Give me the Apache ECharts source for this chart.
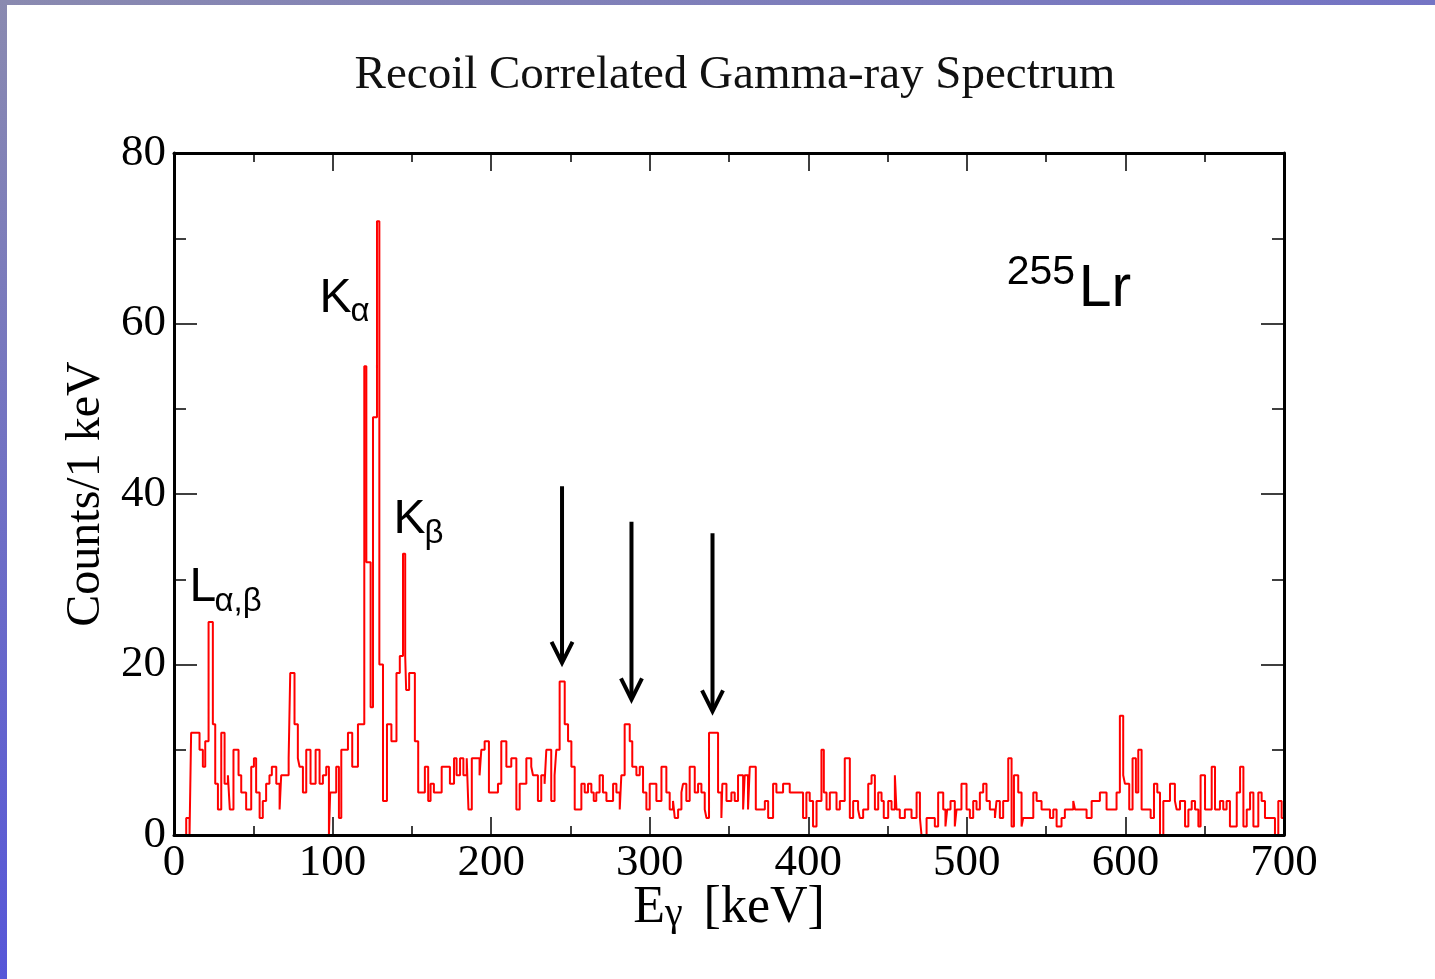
<!DOCTYPE html>
<html><head><meta charset="utf-8">
<script src="https://cdn.jsdelivr.net/npm/echarts@6/dist/echarts.min.js"></script>
<style>
html,body{margin:0;padding:0;width:1435px;height:979px;overflow:hidden;background:#fff;}
#topbar{position:absolute;left:0;top:0;width:1435px;height:5px;background:linear-gradient(to right,#8a8ab0,#7474c4);}
#leftbar{position:absolute;left:0;top:0;width:7px;height:979px;background:linear-gradient(to bottom,#8a8ab0,#5656d8);}
#chart{position:absolute;left:0;top:0;width:1435px;height:979px;}
</style></head><body>
<div id="topbar"></div><div id="leftbar"></div><div id="chart"></div>
<script>
// ---- data ----
const titleText = 'Recoil Correlated Gamma-ray Spectrum';
const xTickValues = [0, 100, 200, 300, 400, 500, 600, 700];
const yTickValues = [0, 20, 40, 60, 80];
// start energy (keV) of each histogram step, and the counts of that step
const binStartKeV = [0,7.7,9.8,10.8,16.1,18.2,19.7,21.8,24.5,26,27.7,29.8,31.9,34,35.2,37.5,40.7,42.4,45.5,48.7,50.4,51.8,54,56,58.1,60.2,61.7,64.5,66.6,67.6,72.3,73.3,76,78.1,79.2,81.3,83.4,86.1,89.3,91.8,93.9,96,97.7,98.5,102.3,104,105.5,109.7,112.4,116,120,121.3,124,125.5,128,129.5,131.8,134.3,137.1,140.3,142.4,144.4,145.8,146.4,148.3,151.9,154,158.2,160.3,161.8,163.9,168.8,174,176.6,178.2,180.4,182.5,184.6,185.7,187.8,192.7,193.8,195.9,198.6,204.3,206.4,209.6,212.7,215.9,218,222.2,225.3,226.4,229.5,231.6,233.7,234.8,237.9,240,241.1,243.2,246.4,248.5,250.6,252.7,256.9,259,261.1,263.2,264.7,266.3,268.4,270.5,272.7,276.9,279,281.1,282.1,284.2,287.4,289,291.6,293.7,295.8,297.9,300,304.2,307.4,310.5,312.6,314.7,315.8,317.9,320,321,323.1,325.2,328.4,330.5,332.6,334.7,335.8,337.4,343.1,345.2,345.8,348.4,351.5,353.6,355.7,358.9,359.9,362,363.1,366.9,372.6,374.7,377.8,379.9,384.1,388.3,396.7,398.8,400.9,403,405.2,408.3,409.8,411.5,413.6,417.8,419.9,423,426.2,428.3,431.4,432.5,434.6,437.8,439.9,442,444.1,446.2,447.6,450.4,452.5,454.6,455.6,457.7,460.9,465.1,468.3,470.4,471.4,474.6,479.8,481.9,485.1,486.5,487.6,489.7,492.4,493.5,496.6,499.8,501.9,504,506.1,508.2,510.3,512.4,514.5,517.7,518.7,520.8,522.9,526.1,528.2,529.7,532.4,534.5,535.5,541.9,544,547.1,552.4,554.5,556.6,559.7,561.8,565,567.1,568.2,575.5,578.7,583.9,588.1,594.4,596.5,598.6,599.7,602.4,604.5,606.6,608.1,610.2,615.9,618,620.1,621.8,623.9,628.1,631.2,632.3,634.4,637.6,639.7,641.8,643.9,646,647.4,650.2,654.4,656.5,659.6,661.7,663.8,665.9,670.2,672.3,674.4,676.5,678.6,680.7,683.8,685.9,688,694.3,696.4,698.5,700];
const counts = [0,2,0,12,10,8,11,25,13,6,3,12,6,7,3,10,7,5,3,8,9,5,2,4,6,7,8,6,3,7,9,19,13,9,8,5,10,6,10,6,7,8,0,5,8,2,10,12,8,13,55,32,15,49,72,20,4,13,11,19,21,33,21,17,19,11,5,8,4,6,5,8,6,9,7,9,7,9,3,9,7,10,11,5,6,11,8,9,3,6,9,8,7,4,7,6,10,4,7,10,18,13,11,8,3,6,5,6,5,4,5,7,5,4,6,5,3,7,13,11,8,7,8,5,3,6,4,8,5,3,4,2,3,5,6,4,8,5,6,5,3,2,12,5,2,6,4,5,4,7,3,7,3,8,3,4,2,6,5,6,5,2,5,4,1,4,10,5,3,5,3,4,9,2,4,3,2,3,6,7,3,5,4,2,4,3,7,3,2,3,2,5,2,0,2,1,5,3,1,3,4,1,3,6,3,2,4,3,5,6,4,3,2,4,2,4,9,1,7,5,1,2,5,4,3,2,3,1,2,3,3,4,3,2,4,5,3,5,14,7,6,3,9,5,10,3,2,6,5,0,4,6,4,3,4,1,3,4,3,1,7,3,8,3,4,3,4,1,5,8,1,3,5,1,5,4,2,0,4,2,2];
// annotation arrows (keV, counts)
const arrowKeV = [244.7, 288.5, 339.6];
const arrowTop = [40.9, 36.75, 35.4];
const arrowTip = [20.2, 15.9, 14.5];
// annotation labels: main letter, subscript, anchor (keV, counts) at main-letter baseline
const labelMain = ['L', 'K', 'K'];
const labelSub = ['α,β', 'α', 'β'];
const labelKeV = [9.8, 91.8, 138.5];
const labelCounts = [27.3, 61.2, 35.2];
const isotopeMass = '255';
const isotopeSymbol = 'Lr';
const isotopeKeV = 570.5, isotopeCounts = 61.8;

const serif = '"Liberation Serif", "Times New Roman", serif';
const sans = '"Liberation Sans", Arial, sans-serif';

const pts = binStartKeV.map((x, i) => [x, counts[i]]);

const chart = echarts.init(document.getElementById('chart'));
const axisLineStyle = {color: '#000', width: 3};
const tickStyle = {color: '#000', width: 1.5};
const option = {
  animation: false,
  backgroundColor: 'transparent',
  title: {text: titleText, left: 730, top: 47, textAlign: 'center',
    textStyle: {fontFamily: serif, fontSize: 47, fontWeight: 'normal', color: '#111'}},
  grid: {left: 174, top: 153, right: 151, bottom: 144, show: false},
  xAxis: [{
    type: 'value', min: xTickValues[0], max: xTickValues[xTickValues.length - 1], interval: 100,
    position: 'bottom', z: 5,
    axisLine: {show: true, onZero: false, lineStyle: axisLineStyle},
    axisTick: {show: true, inside: true, length: 18, lineStyle: tickStyle},
    minorTick: {show: true, splitNumber: 2, length: 9, lineStyle: tickStyle},
    splitLine: {show: false},
    axisLabel: {fontFamily: serif, fontSize: 45, color: '#000', margin: 6},
    name: '{m|E}{g|γ}{m| [keV]}', nameLocation: 'middle', nameGap: 47, nameMoveOverlap: false,
    nameTextStyle: {fontFamily: serif, fontSize: 52, color: '#000',
      rich: {
        m: {fontFamily: serif, fontSize: 52, lineHeight: 52, verticalAlign: 'top', color: '#000'},
        g: {fontFamily: serif, fontSize: 40, lineHeight: 40, verticalAlign: 'bottom', padding: [30, 8, 0, 0], color: '#000'}
      }}
  }, {
    type: 'value', min: xTickValues[0], max: xTickValues[xTickValues.length - 1], interval: 100,
    position: 'top', z: 5,
    axisLine: {show: true, onZero: false, lineStyle: axisLineStyle},
    axisTick: {show: true, inside: true, length: 18, lineStyle: tickStyle},
    minorTick: {show: true, splitNumber: 2, length: 9, lineStyle: tickStyle},
    splitLine: {show: false}, axisLabel: {show: false}
  }],
  yAxis: [{
    type: 'value', min: yTickValues[0], max: yTickValues[yTickValues.length - 1], interval: 20,
    position: 'left', z: 5,
    axisLine: {show: true, onZero: false, lineStyle: axisLineStyle},
    axisTick: {show: true, inside: true, length: 23, lineStyle: tickStyle},
    minorTick: {show: true, splitNumber: 2, length: 12, lineStyle: tickStyle},
    splitLine: {show: false},
    axisLabel: {fontFamily: serif, fontSize: 45, color: '#000', margin: 8},
    name: 'Counts/1 keV', nameLocation: 'middle', nameRotate: 90, nameGap: 62,
    nameTextStyle: {fontFamily: serif, fontSize: 48, color: '#000'}
  }, {
    type: 'value', min: yTickValues[0], max: yTickValues[yTickValues.length - 1], interval: 20,
    position: 'right', z: 5,
    axisLine: {show: true, onZero: false, lineStyle: axisLineStyle},
    axisTick: {show: true, inside: true, length: 23, lineStyle: tickStyle},
    minorTick: {show: true, splitNumber: 2, length: 12, lineStyle: tickStyle},
    splitLine: {show: false}, axisLabel: {show: false}
  }],
  series: [{
    type: 'line', data: pts, step: 'end', symbol: 'none', showSymbol: false,
    xAxisIndex: 0, yAxisIndex: 0, z: 2,
    lineStyle: {color: '#ff0000', width: 2}
  }]
};
chart.setOption(option);

function toPx(x, y) { return chart.convertToPixel({seriesIndex: 0}, [x, y]); }
const graphics = [];
arrowKeV.forEach((k, i) => {
  const top = toPx(k, arrowTop[i]);
  const tip = toPx(k, arrowTip[i]);
  graphics.push({type: 'polyline', shape: {points: [[top[0], top[1]], [tip[0], tip[1] - 3]]},
    style: {stroke: '#000', lineWidth: 4, fill: null}, z: 10});
  graphics.push({type: 'polyline', shape: {points: [[tip[0] - 10.5, tip[1] - 21], [tip[0], tip[1]], [tip[0] + 10.5, tip[1] - 21]]},
    style: {stroke: '#000', lineWidth: 4, fill: null, lineJoin: 'miter'}, z: 10});
});
function addText(txt, x, baseline, size) {
  graphics.push({type: 'text', x: x, y: baseline - 0.31 * size, z: 10,
    style: {text: txt, fontFamily: sans, fontSize: size, fill: '#000', align: 'left', verticalAlign: 'middle'}});
}
const subDx = [25, 31, 31], subDy = [10, 9, 9];
labelMain.forEach((m, i) => {
  const p = toPx(labelKeV[i], labelCounts[i]);
  addText(m, p[0], p[1], 48);
  addText(labelSub[i], p[0] + subDx[i], p[1] + subDy[i], 33);
});
const ip = toPx(isotopeKeV, isotopeCounts);
addText(isotopeSymbol, ip[0], ip[1], 59);
addText(isotopeMass, ip[0] - 72, ip[1] - 23, 41);
chart.setOption({graphic: graphics});
</script></body></html>
